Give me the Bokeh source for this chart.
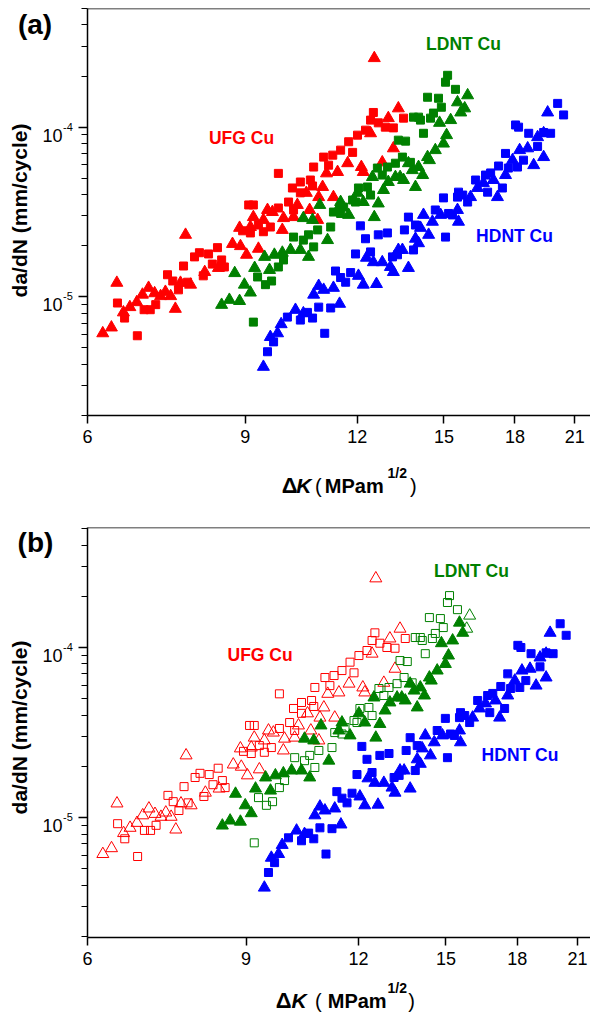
import math
from bokeh.plotting import figure
from bokeh.models import Label, Span, FixedTicker, CustomJSTickFormatter, Range1d
from bokeh.layouts import column, row
from bokeh.embed import file_html
from bokeh.resources import INLINE

# ---------------- data: stress intensity range dK (MPa m^1/2) vs da/dN (mm/cycle)
ufg_tri_k = [6.24, 6.38, 6.47, 6.58, 6.69, 6.81, 6.91, 7.02, 7.13, 7.24, 7.33, 7.43, 7.52, 7.62, 7.72, 7.82,
             8.11, 8.40, 8.71, 8.89, 9.03, 9.31, 8.87, 12.54, 13.34, 13.0, 12.42, 13.17, 11.71, 12.13, 12.19,
             11.41, 11.09, 12.8, 10.98, 10.53, 10.87, 11.29, 10.29, 10.62, 9.53, 9.65, 9.19, 9.43, 9.93, 10.19,
             10.84, 9.12, 9.90]
ufg_tri_r = [6.1e-6, 6.6e-6, 1.21e-5, 8.1e-6, 8.7e-6, 9.3e-6, 1.03e-5, 1.13e-5, 1.05e-5, 1.01e-5, 1.07e-5,
             1.01e-5, 8.5e-6, 1.21e-5, 2.32e-5, 1.18e-5, 1.40e-5, 1.48e-5, 2.05e-5, 1.99e-5, 1.77e-5, 1.92e-5,
             2.55e-5, 2.55e-4, 1.29e-4, 1.13e-4, 9.2e-5, 7.5e-5, 6.13e-5, 5.82e-5, 5.44e-5, 5.44e-5, 5.34e-5,
             6.2e-5, 4.44e-5, 4.1e-5, 3.87e-5, 3.87e-5, 3.48e-5, 3.25e-5, 3.25e-5, 3.16e-5, 2.95e-5, 2.84e-5,
             2.91e-5, 2.95e-5, 2.84e-5, 2.58e-5, 2.48e-5]
ufg_sq_k = [6.48, 6.60, 6.82, 6.94, 7.05, 7.15, 7.37, 7.47, 7.58, 7.68, 7.76, 7.90, 8.00, 8.19, 8.38, 8.27,
            8.47, 8.53, 8.08, 8.94, 12.51, 12.42, 12.67, 13.52, 12.9, 13.17, 12.26, 12.01, 11.74, 11.5, 11.86,
            11.27, 11.01, 11.15, 10.73, 9.80, 10.64, 10.37, 10.16, 10.37, 10.7, 10.06, 9.08, 9.19, 9.8, 10.19,
            9.31, 9.60, 9.12, 9.43]
ufg_sq_r = [9.2e-6, 7.5e-6, 5.9e-6, 8.4e-6, 8.4e-6, 9.0e-6, 1.35e-5, 1.24e-5, 1.10e-5, 1.52e-5, 1.22e-5,
            1.72e-5, 1.82e-5, 1.79e-5, 1.95e-5, 1.56e-5, 1.65e-5, 1.50e-5, 1.33e-5, 2.45e-5, 1.22e-4, 1.10e-4,
            1.06e-4, 1.13e-4, 1.0e-4, 9.9e-5, 9.6e-5, 8.97e-5, 8.2e-5, 7.32e-5, 7.1e-5, 6.84e-5, 6.66e-5,
            5.97e-5, 5.82e-5, 5.34e-5, 4.88e-5, 4.75e-5, 4.38e-5, 4.1e-5, 4.5e-5, 3.62e-5, 3.48e-5, 3.48e-5,
            3.34e-5, 3.25e-5, 2.65e-5, 2.58e-5, 2.38e-5, 2.42e-5]

ldnt_tri_k = [8.47, 8.64, 8.87, 8.98, 9.12, 8.76, 9.22, 9.46, 9.58, 9.70, 9.9, 10.11, 10.37, 10.59, 11.12,
              10.9, 10.7, 10.45, 11.5, 11.41, 11.74, 12.01, 12.19, 12.48, 12.54, 12.67, 12.84, 13.0, 13.24,
              13.4, 13.52, 13.94, 13.83, 13.69, 14.05, 14.2, 14.38, 14.45, 14.67, 14.98, 15.1, 14.83, 15.26,
              15.66, 15.53]
ldnt_tri_r = [8.97e-6, 9.6e-6, 9.45e-6, 1.18e-5, 1.06e-5, 1.38e-5, 1.48e-5, 1.72e-5, 1.44e-5, 1.77e-5,
              1.82e-5, 1.89e-5, 1.89e-5, 1.72e-5, 2.16e-5, 3.48e-5, 2.84e-5, 2.91e-5, 3.62e-5, 3.25e-5,
              3.04e-5, 4.1e-5, 3.62e-5, 5.08e-5, 2.95e-5, 3.55e-5, 4.26e-5, 4.75e-5, 5.08e-5, 5.08e-5,
              4.88e-5, 4.44e-5, 5.58e-5, 6.13e-5, 5.82e-5, 5.22e-5, 6.66e-5, 6.39e-5, 7.32e-5, 8.0e-5,
              8.97e-5, 1.06e-4, 1.10e-4, 1.22e-4, 1.40e-4]
# the two top LDNT triangles are drawn open in panel (b)
ldnt_tri2_k = [15.82, 15.94]
ldnt_tri2_r = [1.29e-4, 1.54e-4]
ldnt_sq_k = [9.19, 9.29, 9.48, 9.63, 9.80, 9.93, 10.19, 10.45, 10.73, 10.59, 10.84, 11.21, 11.29, 11.5,
             11.59, 11.86, 11.95, 12.04, 12.32, 12.42, 12.64, 12.97, 13.24, 12.8, 13.34, 13.59, 13.48, 13.76,
             13.87, 14.05, 14.23, 14.38, 15.14, 15.06, 15.45, 14.79, 14.9, 14.6, 14.49, 14.12]
ldnt_sq_r = [7.1e-6, 1.31e-5, 1.18e-5, 1.24e-5, 1.50e-5, 1.65e-5, 2.25e-5, 2.16e-5, 1.97e-5, 2.32e-5,
             2.48e-5, 2.58e-5, 3.16e-5, 3.1e-5, 3.38e-5, 3.72e-5, 3.62e-5, 4.38e-5, 4.44e-5, 3.98e-5,
             5.74e-5, 5.82e-5, 6.13e-5, 5.22e-5, 8.38e-5, 8.27e-5, 6.66e-5, 6.2e-5, 1.145e-4, 1.145e-4,
             9.2e-5, 1.50e-4, 2.02e-4, 1.84e-4, 1.67e-4, 1.48e-4, 1.31e-4, 1.21e-4, 1.13e-4, 1.10e-4]

hdnt_tri_k = [9.43, 9.6, 9.78, 9.87, 10.24, 10.45, 10.73, 10.87, 11.01, 11.29, 11.47, 12.04, 12.19, 12.61,
              12.29, 12.51, 12.8, 13.07, 13.17, 13.34, 13.48, 13.69, 13.94, 14.05, 14.23, 14.42, 14.56, 14.12,
              14.87, 15.53, 15.57, 16.06, 16.35, 16.6, 17.03, 17.21, 17.57, 17.89, 18.22, 18.6, 18.89, 19.08,
              19.38, 19.38, 19.58]
hdnt_tri_r = [3.87e-6, 5.8e-6, 6.1e-6, 6.9e-6, 8.38e-6, 8.0e-6, 1.03e-5, 1.16e-5, 1.10e-5, 1.13e-5, 9.1e-6,
              1.33e-5, 1.18e-5, 1.19e-5, 1.70e-5, 1.60e-5, 1.60e-5, 1.50e-5, 1.40e-5, 1.89e-5, 1.89e-5,
              1.48e-5, 2.2e-5, 2.07e-5, 3.04e-5, 2.32e-5, 2.77e-5, 2.55e-5, 3.04e-5, 3.25e-5, 2.77e-5,
              3.87e-5, 4.38e-5, 4.69e-5, 4.88e-5, 3.87e-5, 5.22e-5, 6.39e-5, 7.32e-5, 7.5e-5, 5.97e-5,
              8.73e-5, 9.2e-5, 6.66e-5, 1.22e-4]
hdnt_sq_k = [9.53, 9.68, 10.03, 10.37, 10.56, 10.7, 10.87, 11.04, 11.21, 11.35, 11.5, 11.65, 11.8, 11.95,
             12.1, 12.26, 12.42, 12.67, 12.97, 13.14, 13.31, 13.55, 13.69, 13.87, 13.94, 14.67, 14.98, 15.06,
             15.18, 15.33, 15.53, 15.57, 15.74, 15.94, 16.27, 16.69, 16.78, 16.91, 17.26, 17.43, 17.57, 17.7,
             18.12, 18.4, 18.65, 19.08, 19.38, 19.73, 18.03, 18.17, 20.09, 20.4]
hdnt_sq_r = [4.75e-6, 5.43e-6, 7.6e-6, 7.3e-6, 8.1e-6, 7.5e-6, 8.7e-6, 6.1e-6, 8.6e-6, 1.42e-5, 1.30e-5,
             1.22e-5, 1.39e-5, 1.79e-5, 2.62e-5, 2.2e-5, 1.84e-5, 2.32e-5, 2.38e-5, 1.72e-5, 1.77e-5, 2.48e-5,
             2.95e-5, 1.89e-5, 2.65e-5, 3.25e-5, 3.83e-5, 2.25e-5, 3.1e-5, 3.04e-5, 3.87e-5, 4.14e-5, 3.98e-5,
             3.62e-5, 4.88e-5, 5.22e-5, 4.14e-5, 5.37e-5, 5.9e-5, 4.38e-5, 7.0e-5, 5.74e-5, 5.82e-5, 6.39e-5,
             9.2e-5, 7.7e-5, 9.3e-5, 9.2e-5, 1.03e-4, 1.0e-4, 1.38e-4, 1.18e-4]

x_ticks = [6, 9, 12, 15, 18, 21]
y_major = [1e-5, 1e-4]
series_labels = ["UFG Cu", "LDNT Cu", "HDNT Cu"]

FONT = "Liberation Sans"
RED, GREEN, BLUE = "#ff0000", "#008000", "#0000ff"
SQ, TRI = 8, 12
LEFT_W = 77          # width of the left text strip
PAGE_W = 590


def add_label(f, x, y, text, size, style="normal", color="black", align="left",
              baseline="alphabetic", angle=0.0):
    f.add_layout(Label(x=x, y=y, text=text, text_font=FONT, text_font_size=f"{size}px",
                       text_font_style=style, text_color=color, text_align=align,
                       text_baseline=baseline, angle=angle))


def text_fig(x0, x1, y0, y1):
    """Blank strip whose data coordinates are page pixels (y downwards)."""
    f = figure(width=x1 - x0, height=y1 - y0, x_range=Range1d(x0, x1), y_range=Range1d(y1, y0),
               x_axis_type=None, y_axis_type=None, output_backend="svg", toolbar_location=None,
               min_border=0, outline_line_color=None, title=None,
               background_fill_color="white", border_fill_color="white")
    f.grid.visible = False
    return f


def make_panel(letter, page_top, main_h, bottom_h, T, B, xr, yr, panel_b, pos):
    L, R = 87, PAGE_W
    main_w = PAGE_W - LEFT_W
    p = figure(width=main_w, height=main_h, x_axis_type="log", y_axis_type="log",
               x_range=xr, y_range=yr, output_backend="svg", toolbar_location=None, title=None,
               min_border_left=L - LEFT_W, min_border_right=0, min_border_top=T - page_top,
               min_border_bottom=main_h - (B - page_top), background_fill_color="white",
               border_fill_color="white", outline_line_color=None)
    p.xgrid.visible = False
    p.ygrid.visible = False

    lx0, lx1 = math.log(xr[0]), math.log(xr[1])
    ly0, ly1 = math.log10(yr[0]), math.log10(yr[1])

    def X(px):
        return math.exp(lx0 + (px - L) / (R - L) * (lx1 - lx0))

    def Y(py):
        return 10 ** (ly1 - (py - T) / (B - T) * (ly1 - ly0))

    def page_y(v):
        return T + (ly1 - math.log10(v)) / (ly1 - ly0) * (B - T)

    xa = p.xaxis[0]
    xa.ticker = FixedTicker(ticks=x_ticks, minor_ticks=[])
    xa.formatter = CustomJSTickFormatter(code="return Math.round(tick).toString()")
    xa.major_label_text_font = FONT
    xa.major_label_text_font_size = "18px"
    xa.major_label_text_color = "black"
    xa.major_label_standoff = 6
    xa.major_tick_out = 8
    xa.major_tick_in = 0
    xa.axis_line_width = 1.5
    xa.major_tick_line_width = 1.5
    xa.axis_line_color = "black"

    ya = p.yaxis[0]
    minors = [m * 10.0 ** e for e in (-6, -5, -4) for m in range(2, 10)]
    ya.ticker = FixedTicker(ticks=y_major, minor_ticks=minors)
    ya.formatter = CustomJSTickFormatter(code="return ''")
    ya.major_label_standoff = 0
    ya.major_tick_out = 9
    ya.major_tick_in = 0
    ya.minor_tick_out = 6
    ya.minor_tick_in = 0
    ya.axis_line_width = 1.5
    ya.major_tick_line_width = 1.5
    ya.minor_tick_line_width = 1.2
    ya.axis_line_color = "black"

    p.add_layout(Span(location=yr[1], dimension="width", line_color="black", line_width=1.5))

    hollow = dict(fill_alpha=0, line_width=1)
    if panel_b:
        p.scatter(ufg_tri_k, ufg_tri_r, marker="triangle", size=TRI, line_color=RED, **hollow)
        p.scatter(ufg_sq_k, ufg_sq_r, marker="square", size=SQ, line_color=RED, **hollow)
        p.scatter(ldnt_sq_k, ldnt_sq_r, marker="square", size=SQ, line_color=GREEN, **hollow)
        p.scatter(ldnt_tri_k, ldnt_tri_r, marker="triangle", size=TRI, color=GREEN)
        p.scatter(ldnt_tri2_k, ldnt_tri2_r, marker="triangle", size=TRI, line_color=GREEN, **hollow)
    else:
        p.scatter(ufg_tri_k, ufg_tri_r, marker="triangle", size=TRI, color=RED)
        p.scatter(ufg_sq_k, ufg_sq_r, marker="square", size=SQ, color=RED)
        p.scatter(ldnt_sq_k, ldnt_sq_r, marker="square", size=SQ, color=GREEN)
        p.scatter(ldnt_tri_k, ldnt_tri_r, marker="triangle", size=TRI, color=GREEN)
        p.scatter(ldnt_tri2_k, ldnt_tri2_r, marker="triangle", size=TRI, color=GREEN)
    p.scatter(hdnt_sq_k, hdnt_sq_r, marker="square", size=SQ, color=BLUE)
    p.scatter(hdnt_tri_k, hdnt_tri_r, marker="triangle", size=TRI, color=BLUE)

    # series labels inside the frame
    for (cx, cy), txt, col in zip(pos["series"], series_labels, [RED, GREEN, BLUE]):
        add_label(p, X(cx), Y(cy), txt, 17.5, "bold", color=col, align="center", baseline="middle")

    # left strip: panel letter, y title, y tick labels
    total_h = main_h + bottom_h
    left = text_fig(0, LEFT_W, page_top, page_top + total_h)
    add_label(left, pos["letter"][0], pos["letter"][1], letter, 28, "bold", align="center",
              baseline="middle")
    add_label(left, 19, pos["ylab"], "da/dN (mm/cycle)", 21, "bold", align="center",
              baseline="middle", angle=math.pi / 2)
    for v in y_major:
        e = int(round(math.log10(v)))
        ty = page_y(v)
        add_label(left, 62, ty + 8, "10", 18, align="right")
        add_label(left, 62.5, ty - 0.5, str(e), 11, align="left")

    # bottom strip: x title
    btop = page_top + main_h
    bottom = text_fig(LEFT_W, PAGE_W, btop, btop + bottom_h)
    bl = pos["xbase"]
    xs = pos["xlab"]
    add_label(bottom, xs[0], bl, "\u0394", 22, "bold")
    add_label(bottom, xs[1], bl, "K", 21, "bold italic")
    add_label(bottom, xs[2], bl, "(", 20)
    add_label(bottom, xs[3], bl, "MPam", 20, "bold")
    add_label(bottom, xs[4], bl - 12.5, "1/2", 14, "bold")
    add_label(bottom, xs[5], bl, ")", 20)

    return row(left, column(p, bottom, spacing=0), spacing=0)


pa = make_panel("(a)", 0, 455, 45, 8, 415, (6.0, 21.86), (2.0e-6, 5.0e-4), False,
                dict(letter=(34.5, 23.5), ylab=210, xbase=485,
                     xlab=[275, 290, 309, 319, 383, 406],
                     series=[(241, 137), (463, 43), (514, 235)]))
pb = make_panel("(b)", 500, 475, 37, 527, 937, (6.0, 21.71), (1.97e-6, 5.08e-4), True,
                dict(letter=(35, 542), ylab=727, xbase=1000,
                     xlab=[269, 285, 309, 322, 383, 404],
                     series=[(259.6, 654), (471, 570), (519.5, 754)]))

layout = column(pa, pb, spacing=0)
open("out.html", "w").write(file_html(layout, INLINE))
